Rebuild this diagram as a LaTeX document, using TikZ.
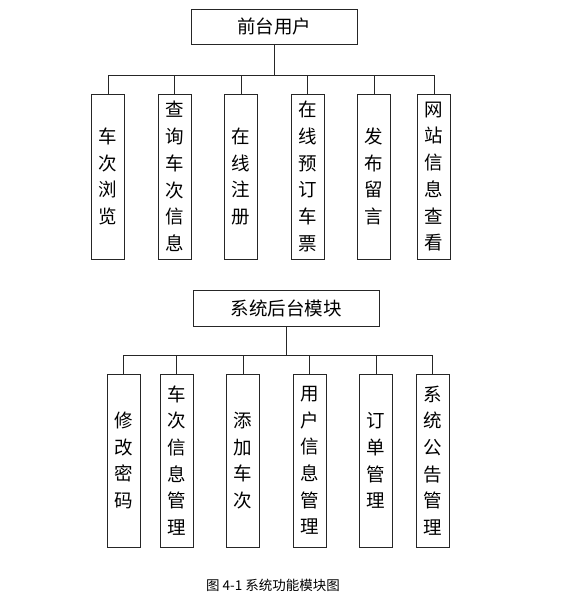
\documentclass[tikz,border=0pt]{standalone}
\usepackage{fontspec}
\newfontfamily\cjk{Noto Sans CJK SC}
\tikzset{
  headbox/.style={draw=black!85, line width=1pt, minimum height=35pt, inner sep=0pt,
    font=\cjk\fontsize{18.5}{20}\selectfont},
  itembox/.style={draw=black!85, line width=1pt, minimum width=33pt, inner sep=0pt,
    align=center, font=\cjk\fontsize{18.5}{26.7}\selectfont},
  link/.style={black!85, line width=0.9pt}
}
\begin{document}
\begin{tikzpicture}[x=1pt,y=-1pt]
    \useasboundingbox (0,0) rectangle (563,603);
    % front end
    \node[headbox, minimum width=166pt] (user) at (274,26.5) {前台用户};
    \foreach \x/\name/\txt in {108/u1/{车\\次\\浏\\览}, 174.5/u2/{查\\询\\车\\次\\信\\息},
        241/u3/{在\\线\\注\\册}, 307.5/u4/{在\\线\\预\\订\\车\\票},
        374/u5/{发\\布\\留\\言}, 434/u6/{网\\站\\信\\息\\查\\看}}
    {
        \node[itembox, minimum height=165pt] (\name) at (\x,176.5) {\txt};
        \draw[link] (user.south) -- ++(0,31) -| (\name.north);
    }
    % back end
    \node[headbox, minimum width=186pt, minimum height=36pt] (admin) at (286,308) {系统后台模块};
    \foreach \x/\name/\txt in {123.5/a1/{修\\改\\密\\码}, 176.5/a2/{车\\次\\信\\息\\管\\理},
        243/a3/{添\\加\\车\\次}, 309.5/a4/{用\\户\\信\\息\\管\\理},
        376/a5/{订\\单\\管\\理}, 432.5/a6/{系\\统\\公\\告\\管\\理}}
    {
        \node[itembox, minimum height=173pt] (\name) at (\x,460.5) {\txt};
        \draw[link] (admin.south) -- ++(0,29) -| (\name.north);
    }
    % caption
    \node[font=\cjk\fontsize{13.5}{15}\selectfont] (caption) at (273,585) {图 4-1 系统功能模块图};
\end{tikzpicture}
\end{document}
